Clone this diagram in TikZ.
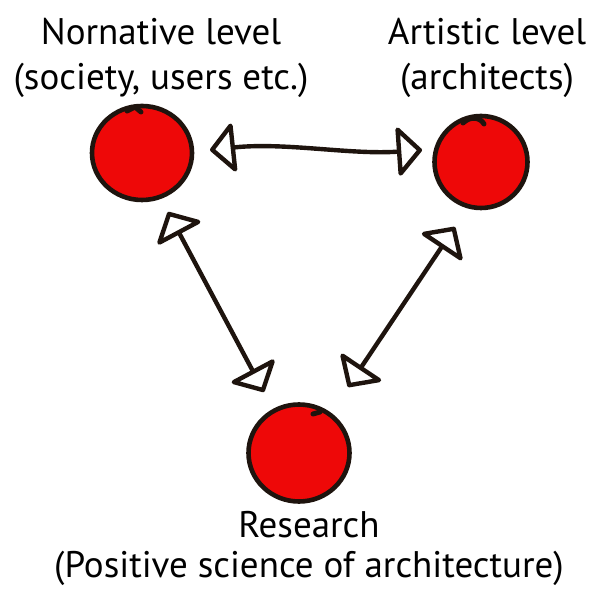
\documentclass[tikz,border=0pt]{standalone}
\usepackage{fontspec}
\setmainfont{PT Sans}
\usetikzlibrary{arrows.meta,shapes.geometric}
\definecolor{dotred}{RGB}{238,8,8}
\definecolor{ink}{RGB}{30,20,14}
\tikzset{
  dot/.style={ellipse,fill=dotred,draw=ink,line width=4.6pt,inner sep=0pt},
  label text/.style={align=center,font=\fontsize{37}{45}\selectfont,inner sep=0pt,anchor=base},
  nub/.style={draw=ink,line width=5pt,line cap=round},
  head/.tip={Triangle[open,length=26pt,width=54pt,line width=4.4pt,round]},
  link/.style={draw=ink,line width=4.4pt,line cap=round,head-head}
}
\begin{document}
\begin{tikzpicture}[x=1pt,y=1pt]
\useasboundingbox (0,0) rectangle (589,591);
% the three levels
\node[dot,minimum width=100pt,minimum height=94pt] (norm) at (142,438) {};
\node[dot,minimum width=93pt,minimum height=92pt] (art) at (481,429) {};
\node[dot,minimum width=101pt,minimum height=97pt] (res) at (299,138) {};
% pen marks where each circle was closed
\draw[nub] (127,480) -- (135,484) -- (141,479);
\draw[nub] (463,468) .. controls (470,475) and (480,474) .. (484,467);
\draw[nub] (313,177) -- (320,179);
% captions
\node[label text] (normtxt) at (161,501) {Nornative level\\(society, users etc.)};
\node[label text] (arttxt) at (487,501) {Artistic level\\(architects)};
\node[label text,font=\fontsize{37}{40}\selectfont] (restxt) at (309,13) {Research\\(Positive science of architecture)};
% arrow end points beside the circles
\coordinate (na) at (210,441);
\coordinate (an) at (422,441);
\coordinate (nr) at (168,379);
\coordinate (rn) at (264,199);
\coordinate (ar) at (455,364);
\coordinate (ra) at (348,204);
% connectors
\draw[link] (na) .. controls (285,449) and (350,436) .. (an);
\draw[link] (nr) -- (rn);
\draw[link] (ra) -- (ar);
\end{tikzpicture}
\end{document}
